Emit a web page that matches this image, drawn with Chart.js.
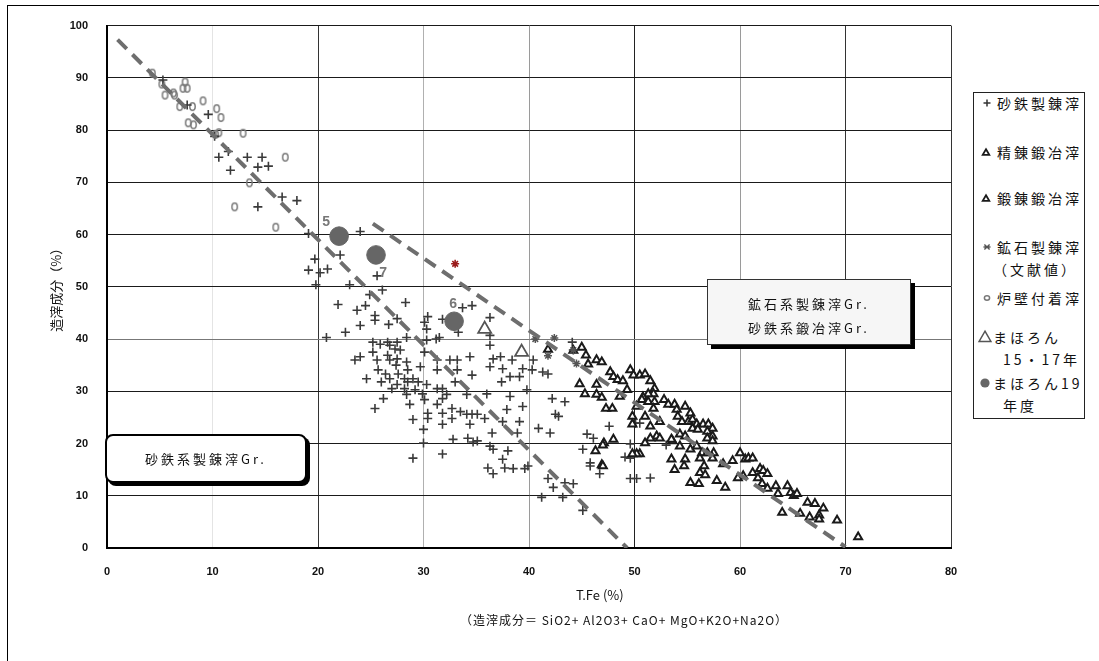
<!DOCTYPE html>
<html>
<head>
<meta charset="UTF-8">
<title>T.Fe と造滓成分</title>
<script src="https://cdn.jsdelivr.net/npm/chart.js@4.4.0/dist/chart.umd.min.js"></script>
<style>
  body {
    margin: 0;
    background: #fff;
    overflow: hidden;
    font-family: "Noto Sans CJK JP", sans-serif;
    color: #111;
  }
  #wrap {
    position: relative;
    width: 1099px;
    height: 661px;
  }
  #frame {
    position: absolute;
    left: 7px;
    top: 5px;
    width: 1200px;
    height: 700px;
    border-left: 1px solid #000;
    border-top: 1px solid #000;
  }
  #chart_box {
    position: absolute;
    left: 0;
    top: 0;
    width: 1099px;
    height: 661px;
  }
  .txt {
    position: absolute;
    white-space: nowrap;
  }
  #legend {
    position: absolute;
    left: 973px;
    top: 92px;
    width: 110px;
    height: 325px;
    border: 1px solid #222;
    background: #fff;
  }
  .lg {
    position: absolute;
    font-size: 14px;
    line-height: 20px;
    letter-spacing: 3px;
    white-space: nowrap;
  }
  .mk {
    position: absolute;
    width: 16px;
    height: 16px;
  }
  .gr-box {
    position: absolute;
    font-size: 13px;
    letter-spacing: 3px;
    text-align: center;
    white-space: nowrap;
  }
  #box_sand {
    left: 105px;
    top: 434px;
    width: 198px;
    height: 45px;
    line-height: 45px;
    border: 2px solid #000;
    border-radius: 8px;
    background: #fff;
    box-shadow: 3px 3px 0 #000;
  }
  #box_ore {
    left: 707px;
    top: 279px;
    width: 204px;
    height: 66px;
    padding-top: 12px;
    box-sizing: border-box;
    line-height: 24px;
    border: 1px solid #333;
    background: #f6f6f6;
    box-shadow: 4px 4px 0 #000;
  }
</style>
</head>
<body>
<div id="wrap">
  <div id="frame"></div>
  <div id="chart_box"><canvas id="chart1"></canvas></div>

  <div id="box_ore" class="gr-box">鉱石系製錬滓Gr.<br>砂鉄系鍛冶滓Gr.</div>
  <div id="box_sand" class="gr-box">砂鉄系製錬滓Gr.</div>

  <div class="txt" style="left:576px; top:585px; font-size:13px;">T.Fe (%)</div>
  <div class="txt" style="left:460px; top:611px; font-size:12px; letter-spacing:1px;">（造滓成分＝ SiO2+ Al2O3+ CaO+ MgO+K2O+Na2O）</div>

  <div id="legend"></div>
</div>
<script>

// 砂鉄製錬滓
const sandIronSmelting = [
  [5.3,89.6],[7.6,84.8],[9.6,83.0],[10.2,78.8],[10.6,74.8],[11.5,75.9],[11.7,72.3],[13.3,74.8],
  [14.7,74.8],[14.3,72.9],[15.3,73.1],[14.3,65.3],[16.6,67.2],[18.0,66.5],[19.1,60.2],[19.7,55.3],
  [19.1,53.2],[20.2,52.7],[20.9,53.4],[19.8,50.4],
  [24.0,60.6],[22.1,56.1],[25.6,52.1],[23.0,50.4],[24.9,48.5],[26.1,49.4],[21.9,46.6],[23.7,45.5],
  [24.5,46.4],[25.4,44.5],[25.4,43.6],[24.0,42.6],[22.6,41.3],[20.8,40.3],[26.7,42.8],[27.5,43.9],
  [28.3,47.0],[30.4,44.3],[30.1,43.2],[30.3,41.9],[31.8,43.8],[33.7,46.0],[34.6,46.4],[31.5,40.3],
  [28.4,40.3],[30.3,39.8],[36.3,40.7],[36.3,38.8],[33.3,41.3],[36.3,44.1],[31.2,40.0],[25.2,39.4],
  [26.6,39.4],[27.5,39.4],[27.8,37.9],
  [23.5,36.0],[24.0,36.6],[25.2,37.5],[25.6,36.0],[25.9,39.0],[26.8,38.8],[27.3,38.1],[26.6,36.9],
  [26.8,36.0],[27.5,36.2],[27.4,35.0],[25.7,34.1],[26.4,33.3],[24.6,32.4],[26.0,31.8],[26.8,32.4],
  [27.0,30.5],[27.6,33.3],[27.5,31.3],[28.4,35.6],[28.5,34.1],[28.2,32.4],[28.5,31.8],[29.0,32.4],
  [29.5,31.8],[29.7,34.7],[30.1,37.5],[31.3,36.0],[31.3,34.1],[28.2,30.5],[28.4,29.4],[29.2,30.3],
  [29.9,29.5],[30.3,31.3],[30.1,28.4],[31.3,30.5],[31.8,30.5],[31.8,28.6],[32.2,29.4],[31.3,27.5],
  [28.7,27.5],[26.2,28.6],[25.4,26.7],[29.0,24.6],[30.4,25.8],[30.4,24.8],[30.0,22.7],[31.8,25.8],
  [31.8,23.7],[32.7,26.7],[32.7,24.8],[33.5,26.1],[34.1,25.6],[34.6,25.6],[35.1,25.6],[34.1,29.4],
  [33.2,34.1],[33.2,36.0],[32.5,36.0],[34.4,36.6],[34.6,33.1],[33.0,31.8],[36.0,29.5],[35.8,24.8],
  [34.4,23.7],[34.2,21.0],[32.8,20.8],[34.7,20.3],[35.1,20.5],[36.3,19.5],[36.6,18.9],[38.0,18.6],
  [37.5,17.0],[37.7,15.3],[36.1,15.3],[36.6,14.2],[38.5,15.2],[39.9,15.7],[39.6,15.2],[36.5,22.0],
  [37.5,24.2],[37.9,26.5],[38.9,22.0],[39.1,24.2],[39.4,27.1],[38.2,29.0],[39.8,30.3],[37.4,31.8],
  [38.2,32.8],[39.1,32.8],[37.5,34.3],[39.4,34.3],[36.3,34.7],[36.6,36.2],[37.3,36.6],[38.4,36.0],
  [40.4,36.0],[40.3,34.1],[41.3,33.7],[41.8,33.3],[40.9,22.9],[42.0,22.0],[42.2,28.6],[43.4,28.0],
  [42.5,25.6],[42.8,25.2],[41.8,13.3],[42.3,11.6],[41.2,9.7],[43.2,9.7],[29.0,17.2],[31.8,18.0],
  [30.0,20.1],
  [44.1,39.4],[44.2,37.9],[43.4,12.5],[44.2,12.3],[45.1,7.2],[45.5,21.8],[46.1,21.0],[45.1,18.9],
  [45.8,16.3],[45.8,15.7],[46.7,14.2],[47.6,23.3],[49.6,13.3],[50.2,13.3],[51.5,13.4],[49.6,17.2],
  [49.1,17.4],[49.6,19.9],[50.1,23.9],[50.5,23.9],[53.0,19.7]
];

// 精錬鍛冶滓
const refiningSmithing = [
  [45.0,38.4],[45.4,36.9],[45.6,35.2],[46.4,36.0],[46.9,35.6],[44.8,31.4],[45.3,29.5],[46.4,31.3],
  [46.4,29.4],[46.9,28.8],[47.3,26.7],[47.9,26.7],[47.7,33.7],[48.0,32.8],[48.4,32.2],[48.9,32.0],
  [48.6,29.0],[49.3,30.3],[49.6,34.1],[49.9,33.1],[50.5,33.1],[51.0,33.3],[51.5,32.0],[51.9,30.5],
  [51.8,29.5],[51.3,29.5],[50.8,28.9],[50.7,28.4],[51.3,28.0],[51.9,28.0],[51.8,26.7],[50.2,27.1],
  [49.8,25.2],[51.0,25.2],[51.5,23.3],[52.4,24.2],[49.8,23.7],[41.8,38.0],[46.9,15.9],[47.1,20.1],
  [48.0,20.8],[47.0,19.7],[46.3,18.6],[47.0,15.7],[50.5,18.0],[50.2,18.0],[49.8,18.0],[52.1,21.4],
  [52.4,21.0],[51.5,21.0],[51.0,20.1],[53.5,20.8],[44.2,37.8]
];

// 鍛錬鍛冶滓
const forgingSmithing = [
  [52.8,28.4],[53.2,27.5],[53.8,27.5],[54.0,26.5],[54.8,27.1],[55.3,25.8],[54.1,25.2],[54.5,24.2],
  [55.1,24.2],[55.5,24.6],[55.9,23.7],[56.5,23.7],[57.0,23.7],[57.4,22.9],[55.5,22.9],[56.0,22.7],
  [56.9,22.3],[57.4,21.4],[56.9,21.0],[54.3,21.8],[54.8,21.4],[53.6,20.5],[54.3,19.5],[55.3,18.9],
  [55.9,19.5],[57.4,20.5],[56.4,18.2],[56.9,18.2],[57.5,18.2],[58.4,16.1],[57.4,17.2],[56.2,17.2],
  [53.5,17.0],[54.8,17.0],[53.8,15.0],[54.7,15.7],[56.2,14.4],[56.6,15.7],[56.7,14.0],[55.3,12.5],
  [56.1,12.3],[57.8,12.9],[58.6,11.6],[60.0,18.2],[59.3,16.7],[60.5,17.0],[60.8,17.2],[61.2,17.2],
  [60.3,13.8],[59.8,13.4],[61.2,14.4],[61.9,15.2],[62.2,14.8],[62.6,14.2],[61.7,13.4],[62.1,12.3],
  [62.6,11.4],[63.4,11.9],[63.6,10.4],[64.5,11.9],[64.8,10.6],[65.1,10.0],[65.4,10.4],[64.0,6.8],
  [65.7,6.6],[66.4,8.7],[67.1,8.5],[67.9,7.6],[66.6,5.9],[67.5,6.3],[67.5,5.5],[69.2,5.3],[71.2,2.1]
];

// 鉱石製錬滓（文献値）
const oreSmeltingLit = [[40.6,40.0],[42.4,40.2],[41.8,36.8],[44.2,37.9],[44.5,35.3]];
const oreSmeltingLitRed = [[33.0,54.4]];

// 炉壁付着滓
const furnaceWallSlag = [
  [4.3,90.9],[5.2,88.8],[5.5,86.7],[6.4,86.7],[6.3,87.1],[7.2,88.0],[7.4,89.2],[7.6,88.0],
  [6.9,84.5],[8.1,84.5],[9.1,85.6],[7.7,81.4],[8.2,81.0],[10.4,84.1],[10.8,82.4],[10.3,79.2],
  [10.6,79.5],[12.9,79.4],[16.9,74.8],[13.5,69.9],[12.1,65.3],[16.0,61.4]
];

// まほろん15・17年
const mahoron1517 = [[35.8,41.9],[39.3,37.5]];

// まほろん19年度
const mahoron19 = [[22.0,59.7],[25.5,56.1],[32.9,43.4]];
const mahoron19Labels = ['5', '7', '6'];

// 区分線
const guideLineA = [[1.0,97.3],[49.3,0]];
const guideLineB = [[25.2,62.1],[70.0,0.2]];

const X_MIN = 0, X_MAX = 80, X_STEP = 10;
const Y_MIN = 0, Y_MAX = 100, Y_STEP = 10;

const TICK_FONT = { family: '"Liberation Sans", Arial, sans-serif', size: 11, weight: 'bold' };
const vGridColor = { 0: '#000', 10: '#e4e4e4', 20: '#333', 30: '#b0b0b0', 40: '#9a9a9a',
  50: '#222', 60: '#9a9a9a', 70: '#333', 80: '#333' };

function ellipseMarker() {
  const c = document.createElement('canvas');
  c.width = 9;
  c.height = 11;
  const g = c.getContext('2d');
  g.strokeStyle = '#7a7a7a';
  g.lineWidth = 1.5;
  g.beginPath();
  g.ellipse(4.5, 5.5, 2.7, 3.7, 0, 0, Math.PI * 2);
  g.stroke();
  return c;
}

const bigCircleLabelPlugin = {
  id: 'bigCircleLabels',
  afterDatasetsDraw(chart) {
    const idx = chart.data.datasets.findIndex(d => d.label === 'まほろん19年度');
    const meta = chart.getDatasetMeta(idx);
    const offs = [[-13, -14], [7, 18], [-1, -17]];
    const ctx = chart.ctx;
    ctx.save();
    ctx.font = 'bold 14px "Liberation Sans", Arial, sans-serif';
    ctx.fillStyle = '#777';
    ctx.textAlign = 'center';
    ctx.textBaseline = 'middle';
    meta.data.forEach((pt, i) => {
      ctx.fillText(mahoron19Labels[i], pt.x + offs[i][0], pt.y + offs[i][1]);
    });
    ctx.restore();
  }
};

var myChart1 = new Chart(document.getElementById('chart1'), {
  type: 'scatter',
  data: {
    datasets: [{
      label: 'まほろん19年度',
      data: mahoron19,
      pointStyle: 'circle',
      pointRadius: 9.3,
      pointHoverRadius: 9.3,
      pointBackgroundColor: '#666',
      pointBorderColor: '#666',
      pointBorderWidth: 1,
      order: 0,
    }, {
      label: 'まほろん15・17年',
      data: mahoron1517,
      pointStyle: 'triangle',
      pointRadius: 7.5,
      pointHoverRadius: 7.5,
      pointBackgroundColor: '#fff',
      pointBorderColor: '#555',
      pointBorderWidth: 1.8,
      order: 1,
    }, {
      label: 'lineA',
      data: guideLineA,
      showLine: true,
      borderColor: '#6e6e6e',
      borderWidth: 4,
      borderDash: [13, 8],
      pointRadius: 0,
      order: 2,
    }, {
      label: 'lineB',
      data: guideLineB,
      showLine: true,
      borderColor: '#6e6e6e',
      borderWidth: 4,
      borderDash: [13, 8],
      pointRadius: 0,
      order: 2,
    }, {
      label: '鉱石製錬滓（文献値）',
      data: oreSmeltingLit,
      pointStyle: 'star',
      pointRadius: 4,
      pointHoverRadius: 4,
      pointBorderColor: '#555',
      pointBorderWidth: 1.5,
      order: 3,
    }, {
      label: '鉱石製錬滓（文献値）red',
      data: oreSmeltingLitRed,
      pointStyle: 'star',
      pointRadius: 4,
      pointHoverRadius: 4,
      pointBorderColor: '#9b1c1c',
      pointBorderWidth: 1.6,
      order: 3,
    }, {
      label: '精錬鍛冶滓',
      data: refiningSmithing,
      pointStyle: 'triangle',
      pointRadius: 4.6,
      pointHoverRadius: 4.6,
      pointBackgroundColor: '#fff',
      pointBorderColor: '#1a1a1a',
      pointBorderWidth: 2,
      order: 4,
    }, {
      label: '鍛錬鍛冶滓',
      data: forgingSmithing,
      pointStyle: 'triangle',
      pointRadius: 4.6,
      pointHoverRadius: 4.6,
      pointBackgroundColor: '#fff',
      pointBorderColor: '#1a1a1a',
      pointBorderWidth: 2,
      order: 4,
    }, {
      label: '砂鉄製錬滓',
      data: sandIronSmelting,
      pointStyle: 'cross',
      pointRadius: 4.5,
      pointHoverRadius: 4.5,
      pointBorderColor: '#3a3a3a',
      pointBorderWidth: 1.6,
      order: 5,
    }, {
      label: '炉壁付着滓',
      data: furnaceWallSlag,
      pointStyle: ellipseMarker(),
      pointRadius: 4,
      order: 6,
    }],
  },
  options: {
    responsive: true,
    maintainAspectRatio: false,
    animation: false,
    events: [],
    layout: { padding: { left: 48, right: 148, top: 20, bottom: 0 } },
    plugins: {
      legend: { display: false },
      tooltip: { enabled: false },
    },
    scales: {
      x: {
        type: 'linear',
        min: X_MIN,
        max: X_MAX,
        afterFit: (s) => { s.height = 113; },
        ticks: { stepSize: X_STEP, font: TICK_FONT, color: '#111', padding: 17 },
        grid: {
          drawTicks: false,
          color: (c) => vGridColor[c.tick.value] || '#999',
          lineWidth: 1,
        },
        border: { display: true, color: '#000', width: 2 },
      },
      y: {
        type: 'linear',
        min: Y_MIN,
        max: Y_MAX,
        afterFit: (s) => { s.width = 59; },
        ticks: { stepSize: Y_STEP, font: TICK_FONT, color: '#111', padding: 19 },
        grid: {
          drawTicks: false,
          color: (c) => c.tick.value === 40 ? '#777' : '#1a1a1a',
          lineWidth: 1,
        },
        border: { display: true, color: '#000', width: 2 },
        title: {
          display: true,
          text: '造滓成分（%）',
          color: '#111',
          padding: 0,
          font: { family: '"Noto Sans CJK JP", sans-serif', size: 13 },
        },
      },
    },
  },
  plugins: [bigCircleLabelPlugin],
});

// legend (HTML)
function drawMark(ctx, kind) {
  const cx = 8, cy = 8;
  ctx.beginPath();
  if (kind === 'cross') {
    ctx.strokeStyle = '#333'; ctx.lineWidth = 1.5;
    ctx.moveTo(cx - 3.5, cy); ctx.lineTo(cx + 3.5, cy);
    ctx.moveTo(cx, cy - 3.5); ctx.lineTo(cx, cy + 3.5);
    ctx.stroke();
  } else if (kind === 'tri' || kind === 'bigtri') {
    const r = kind === 'tri' ? 3.8 : 6.8;
    ctx.strokeStyle = kind === 'tri' ? '#1a1a1a' : '#555';
    ctx.lineWidth = kind === 'tri' ? 1.8 : 1.5;
    ctx.fillStyle = '#fff';
    for (let i = 0; i < 3; i++) {
      const a = i * 2 * Math.PI / 3;
      const px = cx + Math.sin(a) * r, py = cy + 1 - Math.cos(a) * r;
      if (i === 0) ctx.moveTo(px, py); else ctx.lineTo(px, py);
    }
    ctx.closePath(); ctx.fill(); ctx.stroke();
  } else if (kind === 'star') {
    ctx.strokeStyle = '#555'; ctx.lineWidth = 1.4;
    ctx.moveTo(cx - 3.5, cy); ctx.lineTo(cx + 3.5, cy);
    ctx.moveTo(cx - 2.6, cy - 2.6); ctx.lineTo(cx + 2.6, cy + 2.6);
    ctx.moveTo(cx + 2.6, cy - 2.6); ctx.lineTo(cx - 2.6, cy + 2.6);
    ctx.stroke();
  } else if (kind === 'ellipse') {
    ctx.strokeStyle = '#777'; ctx.lineWidth = 1.5;
    ctx.ellipse(cx, cy, 2.6, 2.2, 0, 0, Math.PI * 2);
    ctx.stroke();
  } else if (kind === 'dot') {
    ctx.fillStyle = '#666';
    ctx.arc(cx, cy, 4.6, 0, Math.PI * 2);
    ctx.fill();
  }
}

const legendItems = [
  { kind: 'cross', y: 103, mx: 987, lines: [['砂鉄製錬滓', 997]] },
  { kind: 'tri', y: 152, mx: 986, lines: [['精錬鍛冶滓', 997]] },
  { kind: 'tri', y: 198, mx: 986, lines: [['鍛錬鍛冶滓', 997]] },
  { kind: 'star', y: 247, mx: 987, lines: [['鉱石製錬滓', 997], ['（文献値）', 993]] },
  { kind: 'ellipse', y: 298, mx: 987, lines: [['炉壁付着滓', 997]] },
  { kind: 'bigtri', y: 337, mx: 985, lines: [['まほろん', 993], ['15・17年', 1003]] },
  { kind: 'dot', y: 383, mx: 985, lines: [['まほろん19', 993], ['年度', 1003]] },
];
const legendBox = document.getElementById('legend');
const LX = 974, LY = 93;
legendItems.forEach(item => {
  const cv = document.createElement('canvas');
  cv.width = 16; cv.height = 16;
  cv.className = 'mk';
  cv.style.left = (item.mx - 8 - LX) + 'px';
  cv.style.top = (item.y - 8 - LY) + 'px';
  drawMark(cv.getContext('2d'), item.kind);
  legendBox.appendChild(cv);
  item.lines.forEach((ln, i) => {
    const d = document.createElement('div');
    d.className = 'lg';
    d.textContent = ln[0];
    d.style.left = (ln[1] - LX) + 'px';
    d.style.top = (item.y - 10 + i * 22 - LY) + 'px';
    legendBox.appendChild(d);
  });
});
</script>
</body>
</html>
